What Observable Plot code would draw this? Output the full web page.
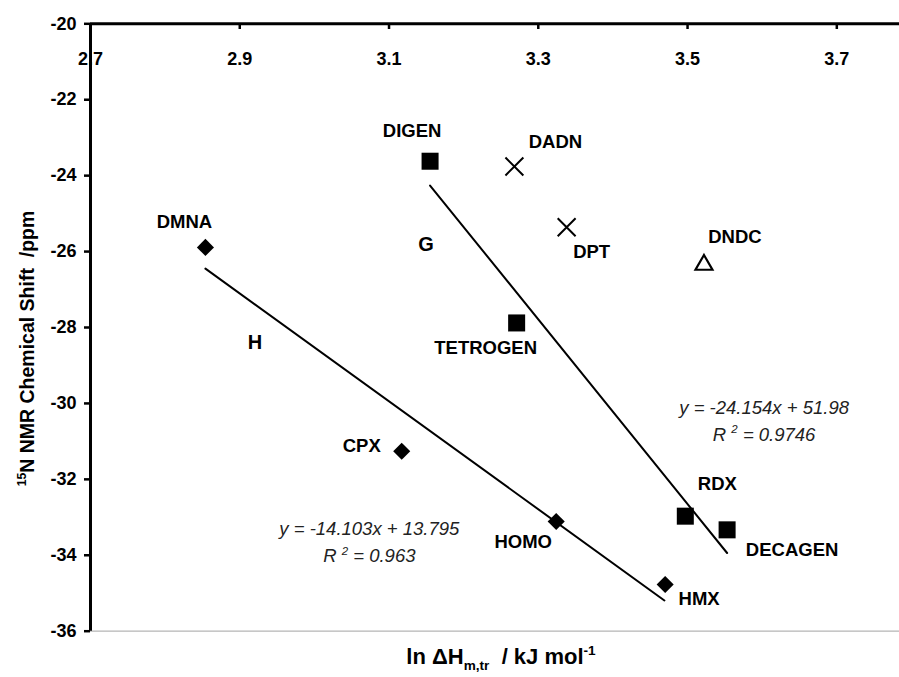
<!DOCTYPE html>
<html>
<head>
<meta charset="utf-8">
<script src="https://cdn.jsdelivr.net/npm/d3@7"></script>
<script src="https://cdn.jsdelivr.net/npm/@observablehq/plot@0.6"></script>
<style>
  html, body { margin: 0; padding: 0; background: #fff; }
  #chart svg { display: block; }
</style>
</head>
<body>
<div id="chart"></div>
<script>
// ---- data ----
const names  = ["DMNA", "CPX", "HOMO", "HMX", "DIGEN", "TETROGEN", "RDX", "DECAGEN", "DADN", "DPT", "DNDC"];
const lnH    = [2.854, 3.117, 3.324, 3.470, 3.155, 3.271, 3.497, 3.553, 3.268, 3.338, 3.522];
const shift  = [-25.89, -31.26, -33.11, -34.77, -23.62, -27.88, -32.97, -33.33, -23.76, -25.36, -26.35];
const family = ["H", "H", "H", "H", "G", "G", "G", "G", "X", "X", "T"];

// trend lines (end points as drawn)
const lineHx = [2.854, 3.469];
const lineHy = [-26.45, -35.19];
const lineGx = [3.155, 3.553];
const lineGy = [-24.26, -33.94];

const xTicks = [2.7, 2.9, 3.1, 3.3, 3.5, 3.7];
const yTicks = [-20, -22, -24, -26, -28, -30, -32, -34, -36];

const eqH = ["y = -14.103x + 13.795", "R2 = 0.963"];
const eqG = ["y = -24.154x + 51.98", "R2 = 0.9746"];

// ---- build tables ----
const points = names.map((n, i) => ({name: n, x: lnH[i], y: shift[i], fam: family[i]}));
const lineH = lineHx.map((x, i) => ({x, y: lineHy[i]}));
const lineG = lineGx.map((x, i) => ({x, y: lineGy[i]}));

// label offsets in pixels relative to each point
const labelOffset = {
  DMNA: [-21, -25], CPX: [-40, -5], HOMO: [-33, 21], HMX: [34, 15],
  DIGEN: [-18, -30], TETROGEN: [-31, 25], RDX: [32, -32], DECAGEN: [65, 20],
  DADN: [41, -24], DPT: [25, 25], DNDC: [31, -28]
};

const FONT = "'Liberation Sans', Arial, Helvetica, sans-serif";
const rad = {H: 7.7, G: 9.6, X: 8.2, T: 8.1};

const labelMarks = points.map(p => Plot.text([p], {
  x: "x", y: "y", text: "name",
  dx: labelOffset[p.name][0], dy: labelOffset[p.name][1],
  fontSize: 18.5, fontWeight: "bold", fill: "#000"
}));

const chart = Plot.plot({
  width: 899,
  height: 677,
  marginLeft: 90,
  marginRight: 0,
  marginTop: 23.3,
  marginBottom: 46.3,
  x: {domain: [2.7, 3.784], axis: null},
  y: {domain: [-36, -20], axis: null},
  style: {fontFamily: FONT, fontWeight: "bold", background: "#fff", color: "#000"},
  marks: [
    // bottom thin grey line
    Plot.ruleY([-36], {stroke: "#b5b5b5", strokeWidth: 1.2}),
    // x tick labels (inside, under the top axis)
    Plot.text(xTicks, {x: d => d, frameAnchor: "top", dy: 28.5, text: d => d.toFixed(1), fontSize: 18, fontWeight: "bold"}),
    // x ticks pointing down from top line
    Plot.ruleX(xTicks, {x: d => d, y1: -20, y2: -20.15, strokeWidth: 2.5}),
    // top axis line
    Plot.ruleY([-20], {strokeWidth: 3}),
    // y axis
    Plot.axisY({ticks: yTicks, tickSize: 6, tickPadding: 8, tickFormat: d => String(d),
                fontSize: 18, fontWeight: "bold", label: null, strokeWidth: 2.5}),
    Plot.ruleX([2.7], {strokeWidth: 3}),
    // trend lines
    Plot.line(lineH, {x: "x", y: "y", stroke: "#000", strokeWidth: 2}),
    Plot.line(lineG, {x: "x", y: "y", stroke: "#000", strokeWidth: 2}),
    // points
    Plot.dot(points.filter(d => d.fam === "H"), {x: "x", y: "y", symbol: "diamond2", r: rad.H, fill: "#000", stroke: "none"}),
    Plot.dot(points.filter(d => d.fam === "G"), {x: "x", y: "y", symbol: "square", r: rad.G, fill: "#000", stroke: "none"}),
    Plot.dot(points.filter(d => d.fam === "X"), {x: "x", y: "y", symbol: "times", r: rad.X, stroke: "#000", strokeWidth: 2}),
    Plot.dot(points.filter(d => d.fam === "T"), {x: "x", y: "y", symbol: "triangle2", r: rad.T, fill: "#fff", stroke: "#000", strokeWidth: 2.2}),
    // point labels
    ...labelMarks,
    // group labels
    Plot.text(["G"], {x: 3.1496, y: -25.81, text: d => d, fontSize: 20, fontWeight: "bold"}),
    Plot.text(["H"], {x: 2.9205, y: -28.39, text: d => d, fontSize: 20, fontWeight: "bold"}),
    // regression equations
    Plot.text([eqH[0]], {x: 3.0736, y: -33.32, text: d => d, fontSize: 18.5, fontStyle: "italic", fontWeight: "normal", fill: "#222"}),
    Plot.text([eqH[1]], {x: 3.0736, y: -34.03, text: d => d, fontSize: 18.5, fontStyle: "italic", fontWeight: "normal", fill: "#222"}),
    Plot.text([eqG[0]], {x: 3.6026, y: -30.12, text: d => d, fontSize: 18.5, fontStyle: "italic", fontWeight: "normal", fill: "#222"}),
    Plot.text([eqG[1]], {x: 3.6026, y: -30.83, text: d => d, fontSize: 18.5, fontStyle: "italic", fontWeight: "normal", fill: "#222"}),
    // axis titles
    Plot.text(["15N NMR Chemical Shift  /ppm"], {frameAnchor: "left", textAnchor: "middle", rotate: -90, dx: -63, dy: 21, text: d => d, fontSize: 19.5, fontWeight: "bold"}),
    Plot.text(["ln \u0394Hm,tr  / kJ mol-1"], {frameAnchor: "bottom", textAnchor: "middle", dx: 6, dy: 33, text: d => d, fontSize: 22, fontWeight: "bold"})
  ]
});

document.getElementById("chart").appendChild(chart);

// ---- rich text (superscripts / subscripts) ----
const NS = "http://www.w3.org/2000/svg";
function rich(el, parts, fs) {
  el.textContent = "";
  el.setAttribute("xml:space", "preserve");
  el.style.whiteSpace = "pre";
  let shiftNow = 0;
  for (const [txt, kind] of parts) {
    const ts = document.createElementNS(NS, "tspan");
    ts.textContent = txt;
    let target = 0;
    if (kind === "sup") { target = -0.42 * fs; ts.setAttribute("font-size", (fs * 0.62).toFixed(1)); }
    if (kind === "sub") { target = 0.28 * fs; ts.setAttribute("font-size", (fs * 0.62).toFixed(1)); }
    const d = target - shiftNow;
    if (d !== 0) ts.setAttribute("dy", d.toFixed(2));
    shiftNow = target;
    el.appendChild(ts);
  }
}
d3.select(chart).selectAll("text").each(function() {
  const t = this.textContent;
  if (t === "15N NMR Chemical Shift  /ppm") rich(this, [["15", "sup"], ["N NMR Chemical Shift  /ppm", ""]], 19.5);
  else if (t === "ln \u0394Hm,tr  / kJ mol-1") rich(this, [["ln \u0394H", ""], ["m,tr", "sub"], ["  / kJ mol", ""], ["-1", "sup"]], 22);
  else if (t === "R2 = 0.963") rich(this, [["R ", ""], ["2", "sup"], [" = 0.963", ""]], 18.5);
  else if (t === "R2 = 0.9746") rich(this, [["R ", ""], ["2", "sup"], [" = 0.9746", ""]], 18.5);
});
</script>
</body>
</html>
